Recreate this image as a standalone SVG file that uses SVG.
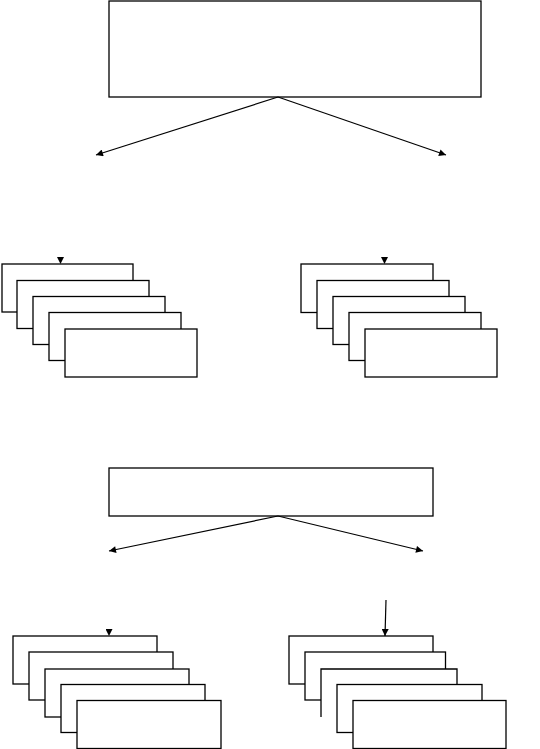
<svg xmlns="http://www.w3.org/2000/svg" width="540" height="749" viewBox="0 0 540 749">
<style>
rect{fill:#fff;stroke:#000;stroke-width:1.3}
.c line,.c polyline{stroke:#000;stroke-width:1.2;fill:none}
</style>
<defs>
<marker id="ah" viewBox="0 0 10 10" refX="10" refY="5" markerWidth="8" markerHeight="7" markerUnits="userSpaceOnUse" orient="auto">
<path d="M0,0 L10,5 L0,10 Z" fill="#000"/>
</marker>
</defs>
<rect width="540" height="749" style="fill:#fff;stroke:none"/>
<g id="top-box"><rect x="109" y="1" width="372" height="96"/></g>
<g id="stack-left-1">
<rect x="2" y="264" width="131" height="48"/>
<rect x="17" y="280.5" width="132" height="48"/>
<rect x="33" y="296.5" width="132" height="48"/>
<rect x="49" y="312.5" width="132" height="48"/>
<rect x="65" y="329" width="132" height="48"/>
</g>
<g id="stack-right-1">
<rect x="301" y="264" width="132" height="48.5"/>
<rect x="317" y="280.5" width="132" height="48"/>
<rect x="333" y="296.5" width="132" height="48"/>
<rect x="349" y="312.5" width="132" height="48"/>
<rect x="365" y="329" width="132" height="48"/>
</g>
<g id="middle-box"><rect x="109" y="468" width="324" height="48"/></g>
<g id="stack-left-2">
<rect x="13" y="636" width="144" height="48"/>
<rect x="29" y="652" width="144" height="48"/>
<rect x="45" y="669" width="144" height="48"/>
<rect x="61" y="684.5" width="144" height="48"/>
<rect x="77" y="700.5" width="144" height="48"/>
</g>
<g id="stack-right-2">
<rect x="289" y="636" width="144" height="48"/>
<rect x="305" y="652" width="140.5" height="48"/>
<polyline points="321,717 321,669 457,669 457,684.5" style="fill:#fff;stroke:#000;stroke-width:1.3"/>
<rect x="337" y="684.5" width="145" height="48"/>
<rect x="353" y="700.5" width="153" height="48"/>
</g>
<g id="connectors" class="c">
<line x1="278" y1="97" x2="96" y2="155" marker-end="url(#ah)"/>
<line x1="278" y1="97" x2="446" y2="155" marker-end="url(#ah)"/>
<line x1="60.5" y1="257" x2="60.5" y2="264" marker-end="url(#ah)" style="stroke-width:0"/>
<line x1="384.5" y1="257" x2="384.5" y2="264" marker-end="url(#ah)" style="stroke-width:0"/>
<line x1="278" y1="516" x2="109" y2="551" marker-end="url(#ah)"/>
<line x1="278" y1="516" x2="423" y2="551" marker-end="url(#ah)"/>
<line x1="109" y1="628" x2="109" y2="636" marker-end="url(#ah)" style="stroke-width:0"/>
<line x1="386" y1="600" x2="385" y2="636" marker-end="url(#ah)"/>
</g>
</svg>
